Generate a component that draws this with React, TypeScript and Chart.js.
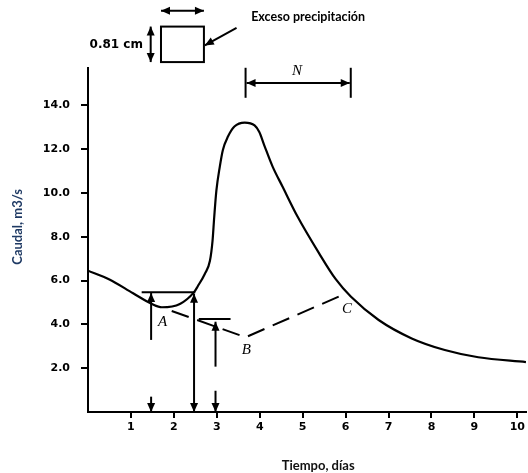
import React, { useEffect, useRef } from "react";
import { Chart, registerables } from "chart.js";

Chart.register(...registerables);

// Hydrograph (tiempo, días -> caudal, m3/s)
const hydroX = [0, 0.5, 1.05, 1.49, 1.72, 2.14, 2.47, 2.56, 2.72, 2.84, 2.9, 2.94, 2.99, 3.07, 3.14, 3.26, 3.41, 3.65, 3.88, 3.99, 4.11, 4.3, 4.53, 4.88, 5.38, 5.77, 6.12, 6.77, 7.54, 8.31, 9.09, 10.2];
const hydroY = [6.45, 6.05, 5.42, 4.93, 4.78, 4.93, 5.47, 5.75, 6.3, 6.9, 7.8, 8.9, 10.1, 11.2, 11.95, 12.57, 13.03, 13.21, 13.08, 12.78, 12.15, 11.2, 10.29, 8.92, 7.25, 6.06, 5.27, 4.2, 3.36, 2.83, 2.5, 2.28];

// Baseflow separation A-B-C
const baseX = [1.95, 3.67, 6.03];
const baseY = [4.61, 3.41, 5.43];
const pointLabels = ["A", "B", "C"];
const pointLabelX = [1.74, 3.69, 6.03];
const pointLabelY = [4.12, 2.83, 4.7];

// Tick values
const xTicks = [1, 2, 3, 4, 5, 6, 7, 8, 9, 10];
const yTicks = [2, 4, 6, 8, 10, 12, 14];

// Horizontal reference segments
const segX1 = [1.25, 2.58];
const segX2 = [2.5, 3.32];
const segY = [5.47, 4.25];

// Vertical arrows
const vArrowX = [1.47, 1.47, 2.47, 2.97, 2.97];
const vArrowFrom = [3.29, 0.7, 0.0, 2.07, 0.97];
const vArrowTo = [5.43, 0.0, 5.4, 4.12, 0.0];
const vArrowDouble = [false, false, true, false, false];

// Rainfall excess box (data units)
const boxX = [1.7, 2.7];
const boxY = [15.97, 17.59];
const boxWidthArrowY = 18.31;
const boxHeightArrowX = 1.46;
const pointerFrom = [3.46, 17.53];
const pointerTo = [2.72, 16.73];
const depthLabel = "0.81 cm";
const depthLabelPos = [1.28, 16.76];
const excessLabel = "Exceso precipitación";
const excessLabelPos = [3.8, 18.05];

// N marker
const nX = [3.67, 6.12];
const nLineY = [14.34, 15.71];
const nArrowY = 15.01;
const nLabelPos = [4.87, 15.54];

const xTitle = "Tiempo, días";
const yTitle = "Caudal, m3/s";

function head(ctx: CanvasRenderingContext2D, x: number, y: number, ang: number, len = 9, w = 4) {
  ctx.save();
  ctx.translate(x, y);
  ctx.rotate(ang);
  ctx.beginPath();
  ctx.moveTo(0, 0);
  ctx.lineTo(-len, -w);
  ctx.lineTo(-len, w);
  ctx.closePath();
  ctx.fill();
  ctx.restore();
}

function arrow(ctx: CanvasRenderingContext2D, x1: number, y1: number, x2: number, y2: number, both: boolean) {
  ctx.beginPath();
  ctx.moveTo(x1, y1);
  ctx.lineTo(x2, y2);
  ctx.stroke();
  const ang = Math.atan2(y2 - y1, x2 - x1);
  head(ctx, x2, y2, ang);
  if (both) head(ctx, x1, y1, ang + Math.PI);
}

const annotationPlugin = {
  id: "hydroAnnotations",
  afterDraw(chart: any) {
    const ctx: CanvasRenderingContext2D = chart.ctx;
    const xs = chart.scales.x;
    const ys = chart.scales.y;
    const px = (v: number) => xs.getPixelForValue(v);
    const py = (v: number) => ys.getPixelForValue(v);
    ctx.save();
    ctx.strokeStyle = "#000";
    ctx.fillStyle = "#000";
    ctx.lineWidth = 2;
    ctx.lineCap = "butt";

    // horizontal segments
    for (let i = 0; i < segY.length; i++) {
      ctx.beginPath();
      ctx.moveTo(px(segX1[i]), py(segY[i]));
      ctx.lineTo(px(segX2[i]), py(segY[i]));
      ctx.stroke();
    }
    // vertical arrows
    for (let i = 0; i < vArrowX.length; i++) {
      arrow(ctx, px(vArrowX[i]), py(vArrowFrom[i]), px(vArrowX[i]), py(vArrowTo[i]), vArrowDouble[i]);
    }
    // point labels
    ctx.font = "italic 15px 'Liberation Serif'";
    ctx.textAlign = "center";
    ctx.textBaseline = "middle";
    for (let i = 0; i < pointLabels.length; i++) {
      ctx.fillText(pointLabels[i], px(pointLabelX[i]), py(pointLabelY[i]));
    }

    // rainfall box
    ctx.fillStyle = "#fff";
    const bx1 = px(boxX[0]), bx2 = px(boxX[1]), by1 = py(boxY[1]), by2 = py(boxY[0]);
    ctx.fillRect(bx1, by1, bx2 - bx1, by2 - by1);
    ctx.strokeRect(bx1, by1, bx2 - bx1, by2 - by1);
    ctx.fillStyle = "#000";
    arrow(ctx, bx1, py(boxWidthArrowY), bx2, py(boxWidthArrowY), true);
    arrow(ctx, px(boxHeightArrowX), by1, px(boxHeightArrowX), by2, true);
    arrow(ctx, px(pointerFrom[0]), py(pointerFrom[1]), px(pointerTo[0]), py(pointerTo[1]), false);
    ctx.font = "bold 12px 'DejaVu Sans'";
    ctx.textAlign = "right";
    ctx.fillText(depthLabel, px(depthLabelPos[0]), py(depthLabelPos[1]));
    ctx.font = "bold 12.5px Lato";
    ctx.textAlign = "left";
    ctx.fillText(excessLabel, px(excessLabelPos[0]), py(excessLabelPos[1]));

    // N marker
    for (const x of nX) {
      ctx.beginPath();
      ctx.moveTo(px(x), py(nLineY[0]));
      ctx.lineTo(px(x), py(nLineY[1]));
      ctx.stroke();
    }
    arrow(ctx, px(nX[0]) + 1, py(nArrowY), px(nX[1]) - 1, py(nArrowY), true);
    ctx.font = "italic 15px 'Liberation Serif'";
    ctx.textAlign = "center";
    ctx.fillText("N", px(nLabelPos[0]), py(nLabelPos[1]));

    // axis titles
    const area = chart.chartArea;
    ctx.font = "bold 13px Lato";
    ctx.fillStyle = "#111";
    ctx.textAlign = "center";
    ctx.fillText(xTitle, px(5.36), area.bottom + 54);
    ctx.save();
    ctx.translate(18, py(8.45));
    ctx.rotate(-Math.PI / 2);
    ctx.fillStyle = "#1F3A64";
    ctx.fillText(yTitle, 0, 0);
    ctx.restore();

    ctx.restore();
  },
};

export default function App() {
  const ref = useRef<HTMLCanvasElement | null>(null);
  useEffect(() => {
    if (!ref.current) return;
    const chart = new Chart(ref.current, {
      type: "line",
      data: {
        datasets: [
          {
            data: hydroX.map((x, i) => ({ x, y: hydroY[i] })),
            borderColor: "#000",
            borderWidth: 2.2,
            pointRadius: 0,
            cubicInterpolationMode: "monotone",
            fill: false,
          },
          {
            data: baseX.map((x, i) => ({ x, y: baseY[i] })),
            borderColor: "#000",
            borderWidth: 2,
            borderDash: [18, 9],
            pointRadius: 0,
            tension: 0,
            fill: false,
          },
        ],
      },
      options: {
        responsive: false,
        animation: false,
        layout: { padding: { top: 68, left: 0, right: 0, bottom: 0 } },
        plugins: { legend: { display: false }, tooltip: { enabled: false } },
        scales: {
          x: {
            type: "linear",
            min: 0,
            max: 10.2,
            afterBuildTicks: (s: any) => {
              s.ticks = xTicks.map((v) => ({ value: v }));
            },
            afterFit: (s: any) => {
              s.height = 61;
            },
            ticks: {
              color: "#000",
              font: { family: "'DejaVu Sans'", size: 11, weight: "bold" },
              padding: 3,
              maxRotation: 0,
              autoSkip: false,
              callback: (v: any) => String(v),
            },
            grid: { drawOnChartArea: false, drawTicks: true, tickLength: 6, color: "#000", lineWidth: 2 },
            border: { color: "#000", width: 2 },
          },
          y: {
            type: "linear",
            min: 0,
            max: 15.7,
            afterBuildTicks: (s: any) => {
              s.ticks = yTicks.map((v) => ({ value: v }));
            },
            afterFit: (s: any) => {
              s.width = 88;
            },
            ticks: {
              color: "#000",
              font: { family: "'DejaVu Sans'", size: 11, weight: "bold" },
              padding: 11,
              autoSkip: false,
              callback: (v: any) => Number(v).toFixed(1),
            },
            grid: { drawOnChartArea: false, drawTicks: true, tickLength: 7, color: "#000", lineWidth: 2 },
            border: { color: "#000", width: 2 },
          },
        },
      },
      plugins: [annotationPlugin],
    } as any);
    return () => chart.destroy();
  }, []);
  return (
    <div style={{ position: "fixed", left: 0, top: 0, width: 528, height: 473, background: "#fff" }}>
      <canvas ref={ref} width={528} height={473} />
    </div>
  );
}
